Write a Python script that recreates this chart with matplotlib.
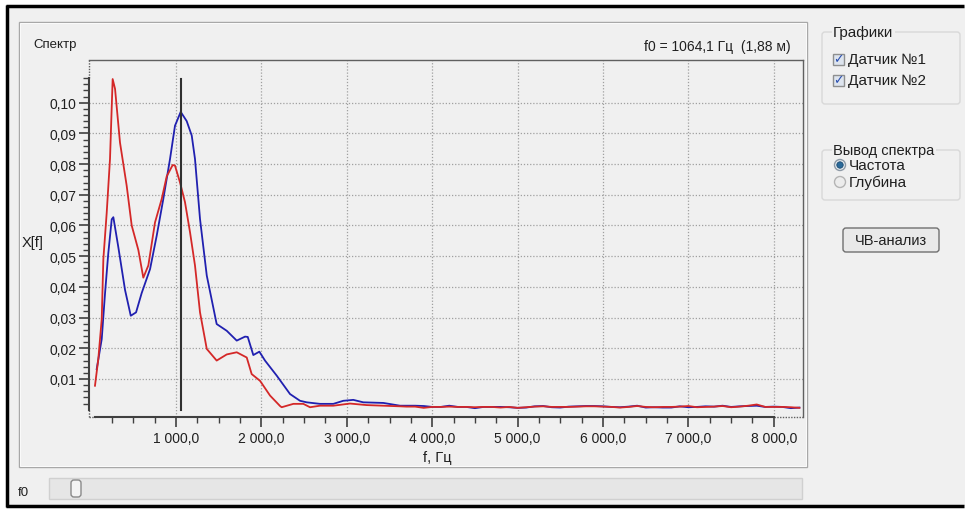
import matplotlib
matplotlib.use("Agg")
import matplotlib.pyplot as plt
from matplotlib.patches import Rectangle, FancyBboxPatch, Circle
from matplotlib.ticker import FixedLocator, FuncFormatter
from matplotlib import font_manager

# ---------------- data ----------------
f_head_red = [51, 90, 130, 149, 188, 227, 258, 286, 344, 422, 481, 559, 617, 676, 754, 832, 891,
              961, 988, 1047, 1105, 1164, 1222, 1281, 1360, 1476, 1594, 1711, 1828, 1886, 1984,
              2101, 2218, 2237, 2374, 2491, 2569, 2686, 2842, 3037, 3233, 3623]
v_head_red = [0.0078, 0.0165, 0.0295, 0.049, 0.064, 0.0817, 0.1077, 0.1045, 0.087, 0.073, 0.060,
              0.052, 0.043, 0.047, 0.061, 0.0686, 0.076, 0.0797, 0.0795, 0.074, 0.0676, 0.0578,
              0.047, 0.0317, 0.0198, 0.016, 0.018, 0.0187, 0.017, 0.0116, 0.0094, 0.0046, 0.0012,
              0.0008, 0.0019, 0.0019, 0.0008, 0.0013, 0.0013, 0.0020, 0.0015, 0.0011]

f_head_blue = [71, 130, 169, 207, 247, 266, 324, 403, 470, 532, 598, 696, 774, 851, 930, 988,
               1055, 1125, 1184, 1222, 1281, 1360, 1476, 1594, 1711, 1808, 1840, 1905, 1976, 2042,
               2179, 2335, 2452, 2530, 2686, 2842, 2959, 3076, 3193, 3428, 3623]
v_head_blue = [0.0132, 0.023, 0.038, 0.051, 0.062, 0.0627, 0.053, 0.039, 0.0306, 0.0317, 0.038,
               0.0458, 0.0567, 0.0686, 0.0817, 0.0925, 0.097, 0.094, 0.0893, 0.0817, 0.0621,
               0.0437, 0.0279, 0.0257, 0.0225, 0.0238, 0.0237, 0.0178, 0.0189, 0.016, 0.0111,
               0.0051, 0.0029, 0.0024, 0.0019, 0.0019, 0.0029, 0.0032, 0.0024, 0.0022, 0.0013]

f_tail = [3700, 3800, 3900, 4000, 4100, 4200, 4300, 4400, 4500, 4600, 4700, 4800, 4900, 5000,
          5100, 5200, 5300, 5400, 5500, 5600, 5700, 5800, 5900, 6000, 6100, 6200, 6300, 6400,
          6500, 6600, 6700, 6800, 6900, 7000, 7100, 7200, 7300, 7400, 7500, 7600, 7700, 7800,
          7900, 8000, 8100, 8200, 8300]
v_tail_red = [0.0010, 0.0010, 0.0006, 0.0009, 0.0009, 0.0010, 0.0009, 0.0009, 0.0008, 0.0009,
              0.0009, 0.0007, 0.0009, 0.0006, 0.0008, 0.0010, 0.0011, 0.0009, 0.0009, 0.0009,
              0.0010, 0.0011, 0.0011, 0.0010, 0.0009, 0.0007, 0.0009, 0.0012, 0.0009, 0.0008,
              0.0009, 0.0009, 0.0010, 0.0012, 0.0008, 0.0009, 0.0010, 0.0012, 0.0008, 0.0010,
              0.0013, 0.0017, 0.0009, 0.0009, 0.0009, 0.0008, 0.0006]
v_tail_blue = [0.0013, 0.0013, 0.0012, 0.0009, 0.0009, 0.0013, 0.0009, 0.0009, 0.0005, 0.0009,
               0.0009, 0.0009, 0.0008, 0.0006, 0.0007, 0.0011, 0.0012, 0.0008, 0.0007, 0.0010,
               0.0011, 0.0012, 0.0012, 0.0011, 0.0009, 0.0008, 0.0010, 0.0013, 0.0007, 0.0008,
               0.0007, 0.0007, 0.0011, 0.0008, 0.0009, 0.0011, 0.0010, 0.0013, 0.0009, 0.0011,
               0.0012, 0.0013, 0.0009, 0.0010, 0.0009, 0.0005, 0.0007]

f0_value = 1064.1
x_major = [1000, 2000, 3000, 4000, 5000, 6000, 7000, 8000]
y_major = [0.01, 0.02, 0.03, 0.04, 0.05, 0.06, 0.07, 0.08, 0.09, 0.10]

title_left = "Спектр"
title_right = "f0 = 1064,1 Гц  (1,88 м)"
ylabel = "X[f]"
xlabel = "f, Гц"

# ---------------- fonts ----------------
names = {f.name for f in font_manager.fontManager.ttflist}
main_font = "Liberation Sans Narrow" if "Liberation Sans Narrow" in names else "Liberation Sans"
FAM = [main_font, "DejaVu Sans"]
plt.rcParams["font.family"] = FAM

W, H = 965, 510
fig = plt.figure(figsize=(W / 100, H / 100), dpi=100)
fig.patch.set_facecolor("white")

# background / UI axes in pixel coordinates
bg = fig.add_axes([0, 0, 1, 1], zorder=0)
bg.set_xlim(0, W)
bg.set_ylim(H, 0)
bg.axis("off")

# window background with black border on top, left and bottom only
bg.add_patch(Rectangle((7, 7), W - 7, 500, facecolor="#f0f0f0", edgecolor="none"))
bg.plot([6, W - 1], [7, 7], color="black", lw=2.5, solid_capstyle="butt")
bg.plot([6, W - 1], [507, 507], color="black", lw=2.5, solid_capstyle="butt")
bg.plot([7, 7], [6, 508], color="black", lw=2.5, solid_capstyle="butt")
# chart group panel
bg.add_patch(Rectangle((19, 23), 788, 445, facecolor="#f0f0f0", edgecolor="#a8a8a8", lw=1.0))
bg.add_patch(Rectangle((20, 24), 786, 443, facecolor="none", edgecolor="white", lw=0.6))

# slider
bg.text(18, 493, "f0", fontsize=9.5, va="center", ha="left", color="#202020")
bg.add_patch(Rectangle((49, 479), 753, 21, facecolor="#e6e6e6", edgecolor="#d0d0d0", lw=1.0))
bg.add_patch(FancyBboxPatch((71, 481), 10, 17, boxstyle="round,pad=0,rounding_size=3",
                            facecolor="#f4f4f4", edgecolor="#8a8a8a", lw=1.0))

# right panel group boxes
bg.add_patch(FancyBboxPatch((822, 33), 138, 72, boxstyle="round,pad=0,rounding_size=3",
                            facecolor="none", edgecolor="#d8d8d8", lw=1.0))
bg.text(833, 33, "Графики", fontsize=11, va="center", ha="left", color="#202020",
        bbox=dict(facecolor="#f0f0f0", edgecolor="none", pad=1))
for yy, lab in [(60, "Датчик №1"), (81, "Датчик №2")]:
    bg.add_patch(Rectangle((833, yy - 5.5), 11, 11, facecolor="#dde4ee", edgecolor="#8e8f8f", lw=1.0))
    bg.text(838.5, yy, "✓", fontsize=9, va="center", ha="center", color="#2a4fb0",
            family="DejaVu Sans", fontweight="bold")
    bg.text(848, yy, lab, fontsize=11, va="center", ha="left", color="#202020")

bg.add_patch(FancyBboxPatch((822, 151), 138, 50, boxstyle="round,pad=0,rounding_size=3",
                            facecolor="none", edgecolor="#d8d8d8", lw=1.0))
bg.text(833, 151, "Вывод спектра", fontsize=10.5, va="center", ha="left", color="#202020",
        bbox=dict(facecolor="#f0f0f0", edgecolor="none", pad=1))
bg.add_patch(Circle((840, 166), 5.5, facecolor="#e8eef2", edgecolor="#8e9aa6", lw=1.0))
bg.add_patch(Circle((840, 166), 3.2, facecolor="#2b6a9a", edgecolor="#1b4a70", lw=0.6))
bg.text(849, 166, "Частота", fontsize=11, va="center", ha="left", color="#202020")
bg.add_patch(Circle((840, 183), 5.5, facecolor="#ececec", edgecolor="#b4b4b4", lw=1.0))
bg.text(849, 183, "Глубина", fontsize=11, va="center", ha="left", color="#202020")

# button
bg.add_patch(FancyBboxPatch((843, 229), 96, 24, boxstyle="round,pad=0,rounding_size=3",
                            facecolor="#e9e9e9", edgecolor="#707070", lw=1.0))
bg.text(891, 241.5, "ЧВ-анализ", fontsize=10.5, va="center", ha="center", color="#202020")

# chart texts
bg.text(33, 45, title_left, fontsize=9.5, va="center", ha="left", color="#202020")
bg.text(791, 47, title_right, fontsize=10, va="center", ha="right", color="#202020")
bg.text(33, 243, ylabel, fontsize=10.5, va="center", ha="center", color="#202020")
bg.text(437, 458, xlabel, fontsize=10.5, va="center", ha="center", color="#202020")

# ---------------- plot axes ----------------
x0p, x1p, y0p, y1p = 89, 803, 61, 418
ax = fig.add_axes([x0p / W, 1 - y1p / H, (x1p - x0p) / W, (y1p - y0p) / H], zorder=1)
ax.set_facecolor("none")
ax.set_xlim(-19, 8342)
ax.set_ylim(-0.00238, 0.1139)

f_red = f_head_red + f_tail
v_red = v_head_red + v_tail_red
f_blue = f_head_blue + f_tail
v_blue = v_head_blue + v_tail_blue

ax.plot(f_blue, v_blue, color="#2020b0", lw=1.3, zorder=3)
ax.plot(f_red, v_red, color="#d42828", lw=1.3, zorder=4)
ax.plot([f0_value, f0_value], [0.0, 0.1077], color="#303030", lw=1.5, zorder=5)

# grid
for xv in x_major:
    ax.axvline(xv, color="#a0a0a0", lw=0.9, ls=(0, (1, 1.5)), zorder=1)
for yv in y_major:
    ax.axhline(yv, color="#a0a0a0", lw=0.9, ls=(0, (1, 1.5)), zorder=1)

# dotted frame
for s in ["top", "right"]:
    ax.spines[s].set_linestyle((0, (1, 1)))
    ax.spines[s].set_color("#606060")
    ax.spines[s].set_linewidth(1.0)
ax.plot([-19, 50], [-0.00238, -0.00238], color="#606060", lw=1.0, ls=(0, (1, 1)),
        clip_on=False, zorder=2)
ax.plot([8000, 8342], [-0.00238, -0.00238], color="#606060", lw=1.0, ls=(0, (1, 1)),
        clip_on=False, zorder=2)
ax.plot([-19, -19], [-0.00238, 0.0], color="#606060", lw=1.0, ls=(0, (1, 1)),
        clip_on=False, zorder=2)
ax.plot([-19, -19], [0.108, 0.1139], color="#606060", lw=1.0, ls=(0, (1, 1)),
        clip_on=False, zorder=2)
ax.spines["left"].set_bounds(0.0, 0.108)
ax.spines["bottom"].set_bounds(50, 8000)
for s in ["left", "bottom"]:
    ax.spines[s].set_color("#404040")
    ax.spines[s].set_linewidth(1.5)

ax.xaxis.set_major_locator(FixedLocator(x_major))
ax.yaxis.set_major_locator(FixedLocator(y_major))
ax.xaxis.set_minor_locator(FixedLocator([v for v in range(250, 8000, 250) if v % 1000]))
ax.yaxis.set_minor_locator(FixedLocator([i * 0.002 for i in range(1, 55) if i % 5]))

ax.xaxis.set_major_formatter(FuncFormatter(
    lambda v, p: f"{v:,.1f}".replace(",", " ").replace(".", ",")))
ax.yaxis.set_major_formatter(FuncFormatter(lambda v, p: f"{v:.2f}".replace(".", ",")))

ax.tick_params(axis="both", which="major", length=7, width=1.2, color="#404040",
               labelsize=10, labelcolor="#202020", direction="out")
ax.tick_params(axis="both", which="minor", length=4, width=1.0, color="#404040",
               direction="out")
ax.tick_params(axis="y", which="major", pad=2)
ax.tick_params(axis="x", which="major", pad=3)

fig.savefig("out.png", dpi=100, facecolor=fig.get_facecolor())
